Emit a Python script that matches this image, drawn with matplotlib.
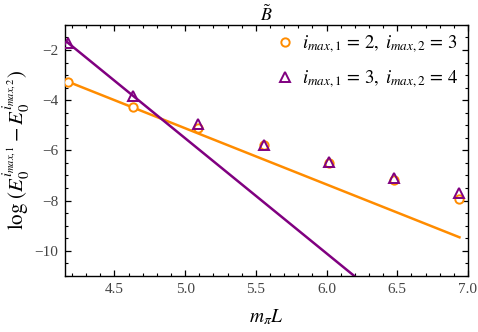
import numpy as np
import matplotlib
matplotlib.use("Agg")
import matplotlib.pyplot as plt
from matplotlib.ticker import MultipleLocator

plt.rcParams["font.family"] = ["Liberation Serif", "DejaVu Serif"]
plt.rcParams["mathtext.fontset"] = "stix"

m_pi_L = [4.17, 4.63, 5.09, 5.56, 6.02, 6.48, 6.94]
diff_23 = [-3.26, -4.29, -5.11, -5.78, -6.49, -7.17, -7.94]
diff_34 = [-1.71, -3.82, -4.94, -5.78, -6.48, -7.10, -7.70]

orange = "#FF8C00"
purple = "#800080"

fig = plt.figure(figsize=(4.78, 3.32), dpi=100)
ax = fig.add_axes([0.136, 0.169, 0.843, 0.756])

x_min, x_max = 4.15, 7.0

# straight lines through the first two points of each series
for ys, col, x_end in [(diff_23, orange, m_pi_L[-1]), (diff_34, purple, x_max)]:
    k, b = np.polyfit(m_pi_L[:2], ys[:2], 1)
    xs = np.array([x_min, x_end])
    ax.plot(xs, k * xs + b, color=col, lw=1.8, zorder=2)

ax.plot(m_pi_L, diff_23, "o", ms=6, mfc="white", mec=orange, mew=1.4, ls="none",
        label=r"$i_{max,1}\,=\,2,\; i_{max,2}\,=\,3$", zorder=3)
ax.plot(m_pi_L, diff_34, "^", ms=6.5, mfc="none", mec=purple, mew=1.4, ls="none",
        label=r"$i_{max,1}\,=\,3,\; i_{max,2}\,=\,4$", zorder=4)

ax.set_xlim(x_min, x_max)
ax.set_ylim(-11, -1)
ax.xaxis.set_major_locator(MultipleLocator(0.5))
ax.xaxis.set_minor_locator(MultipleLocator(0.1))
ax.yaxis.set_major_locator(MultipleLocator(2))
ax.yaxis.set_minor_locator(MultipleLocator(0.5))
ax.tick_params(which="both", direction="in", top=True, right=True,
               labelsize=11, labelcolor="#444444")
ax.tick_params(which="major", length=4, width=0.9, pad=5)
ax.tick_params(which="minor", length=2.5, width=0.8)
for s in ax.spines.values():
    s.set_linewidth(1.0)

ax.set_title(r"$\tilde{B}$", fontsize=13, pad=3)
ax.set_xlabel(r"$m_\pi L$", fontsize=14, labelpad=8)
ax.set_ylabel(r"$\log\,(E_0^{i_{max,1}} - E_0^{i_{max,2}})$", fontsize=15, labelpad=1)

ax.legend(loc="upper right", frameon=False, fontsize=13.5, handletextpad=0.3,
          handlelength=1.2, borderaxespad=0.1, labelspacing=0.7)

fig.savefig("out.png", dpi=100)
